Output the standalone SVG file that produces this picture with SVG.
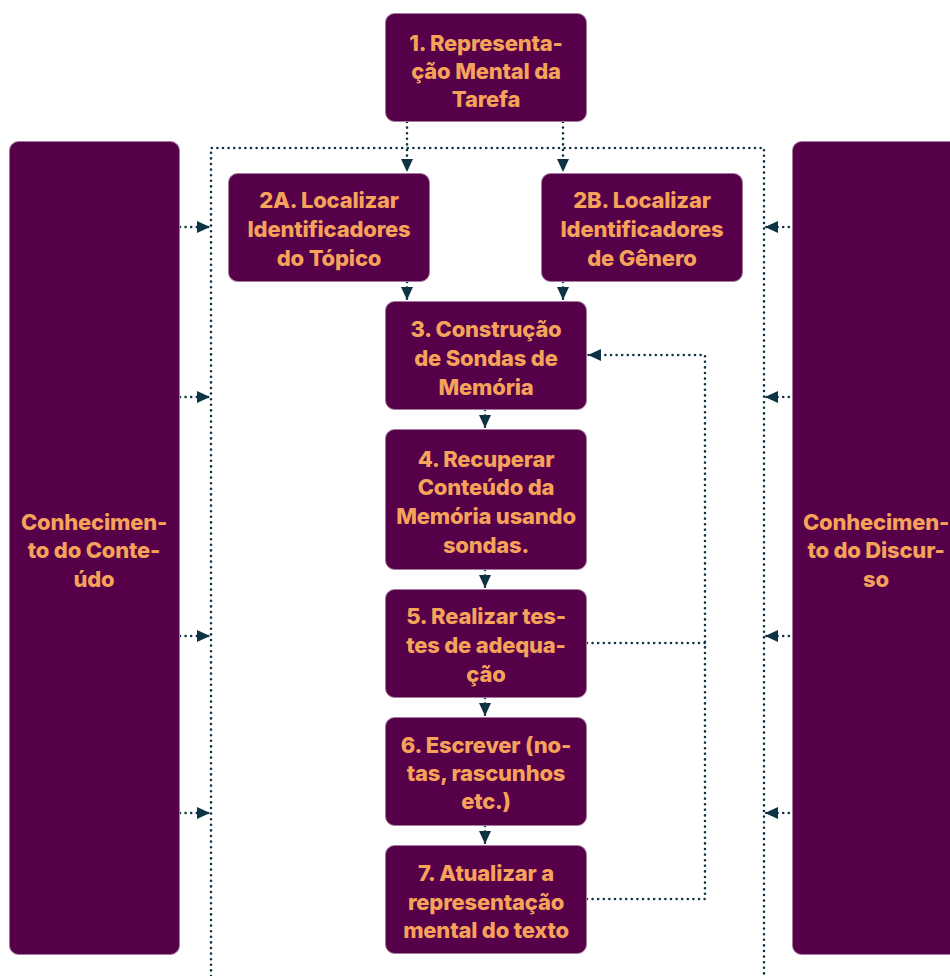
<svg xmlns="http://www.w3.org/2000/svg" width="950" height="976" viewBox="0 0 950 976">
  <style>
    .box { fill: #560049; stroke: #a57aa0; stroke-width: 1; }
    .lbl { fill: #f5a25a; font-family: "Inter", "Lato", sans-serif; font-weight: 800; font-size: 22px; letter-spacing: -0.2px; text-anchor: middle; dominant-baseline: central; }
    .dot { fill: none; stroke: #0e3344; stroke-width: 2.6; stroke-linecap: round; stroke-dasharray: 0 5.6; }
  </style>
  <defs>
    <marker id="arr" viewBox="0 0 13 12" refX="13" refY="6" markerWidth="13" markerHeight="12" markerUnits="userSpaceOnUse" orient="auto">
      <path d="M0,0 L13,6 L0,12 Z" fill="#0e3344"/>
    </marker>
  </defs>

  <rect width="950" height="976" fill="#ffffff"/>

  <!-- connectors -->
  <g id="connectors">
    <!-- dotted frame around the process steps -->
    <path class="dot" d="M211,976 V148 H764 V976"/>
    <!-- task representation to the two locate steps -->
    <path class="dot" d="M407,122 V172" marker-end="url(#arr)"/>
    <path class="dot" d="M563,122 V172" marker-end="url(#arr)"/>
    <!-- locate steps into probe construction -->
    <path class="dot" d="M407,282 V300" marker-end="url(#arr)"/>
    <path class="dot" d="M563,282 V300" marker-end="url(#arr)"/>
    <!-- main chain -->
    <path class="dot" d="M485,410 V428" marker-end="url(#arr)"/>
    <path class="dot" d="M485,570 V588" marker-end="url(#arr)"/>
    <path class="dot" d="M485,698 V716" marker-end="url(#arr)"/>
    <path class="dot" d="M485,826 V844" marker-end="url(#arr)"/>
    <!-- feedback loop back to step 3 -->
    <path class="dot" d="M587,643 H705"/>
    <path class="dot" d="M587,899 H705 V355 H588" marker-end="url(#arr)"/>
    <!-- knowledge inputs, left -->
    <path class="dot" d="M180,227 H210" marker-end="url(#arr)"/>
    <path class="dot" d="M180,397 H210" marker-end="url(#arr)"/>
    <path class="dot" d="M180,636 H210" marker-end="url(#arr)"/>
    <path class="dot" d="M180,813 H210" marker-end="url(#arr)"/>
    <!-- knowledge inputs, right -->
    <path class="dot" d="M800,227 H765" marker-end="url(#arr)"/>
    <path class="dot" d="M800,397 H765" marker-end="url(#arr)"/>
    <path class="dot" d="M800,636 H765" marker-end="url(#arr)"/>
    <path class="dot" d="M800,813 H765" marker-end="url(#arr)"/>
  </g>

  <g id="n-conteudo">
    <rect class="box" x="9.5" y="141.5" width="170" height="813" rx="9"/>
    <text class="lbl" x="94" y="522">Conhecimen-</text>
    <text class="lbl" x="94" y="550">to do Conte-</text>
    <text class="lbl" x="94" y="579">údo</text>
  </g>

  <g id="n-discurso">
    <rect class="box" x="792.5" y="141.5" width="170" height="813" rx="9"/>
    <text class="lbl" x="876" y="522">Conhecimen-</text>
    <text class="lbl" x="876" y="550">to do Discur-</text>
    <text class="lbl" x="876" y="579">so</text>
  </g>

  <g id="n1">
    <rect class="box" x="385.5" y="13.5" width="201" height="108" rx="9"/>
    <text class="lbl" x="486" y="43">1. Representa-</text>
    <text class="lbl" x="486" y="71">ção Mental da</text>
    <text class="lbl" x="486" y="99">Tarefa</text>
  </g>

  <g id="n2a">
    <rect class="box" x="228.5" y="173.5" width="201" height="108" rx="9"/>
    <text class="lbl" x="329" y="200">2A. Localizar</text>
    <text class="lbl" x="329" y="229">Identificadores</text>
    <text class="lbl" x="329" y="258">do Tópico</text>
  </g>

  <g id="n2b">
    <rect class="box" x="541.5" y="173.5" width="201" height="108" rx="9"/>
    <text class="lbl" x="642" y="200">2B. Localizar</text>
    <text class="lbl" x="642" y="229">Identificadores</text>
    <text class="lbl" x="642" y="258">de Gênero</text>
  </g>

  <g id="n3">
    <rect class="box" x="385.5" y="301.5" width="201" height="108" rx="9"/>
    <text class="lbl" x="486" y="329">3. Construção</text>
    <text class="lbl" x="486" y="358">de Sondas de</text>
    <text class="lbl" x="486" y="387">Memória</text>
  </g>

  <g id="n4">
    <rect class="box" x="385.5" y="429.5" width="201" height="140" rx="9"/>
    <text class="lbl" x="486" y="459">4. Recuperar</text>
    <text class="lbl" x="486" y="487">Conteúdo da</text>
    <text class="lbl" x="486" y="516">Memória usando</text>
    <text class="lbl" x="486" y="545">sondas.</text>
  </g>

  <g id="n5">
    <rect class="box" x="385.5" y="589.5" width="201" height="108" rx="9"/>
    <text class="lbl" x="486" y="616">5. Realizar tes-</text>
    <text class="lbl" x="486" y="645">tes de adequa-</text>
    <text class="lbl" x="486" y="674">ção</text>
  </g>

  <g id="n6">
    <rect class="box" x="385.5" y="717.5" width="201" height="108" rx="9"/>
    <text class="lbl" x="486" y="745">6. Escrever (no-</text>
    <text class="lbl" x="486" y="773">tas, rascunhos</text>
    <text class="lbl" x="486" y="801">etc.)</text>
  </g>

  <g id="n7">
    <rect class="box" x="385.5" y="845.5" width="201" height="108" rx="9"/>
    <text class="lbl" x="486" y="873">7. Atualizar a</text>
    <text class="lbl" x="486" y="902">representação</text>
    <text class="lbl" x="486" y="930">mental do texto</text>
  </g>
</svg>
